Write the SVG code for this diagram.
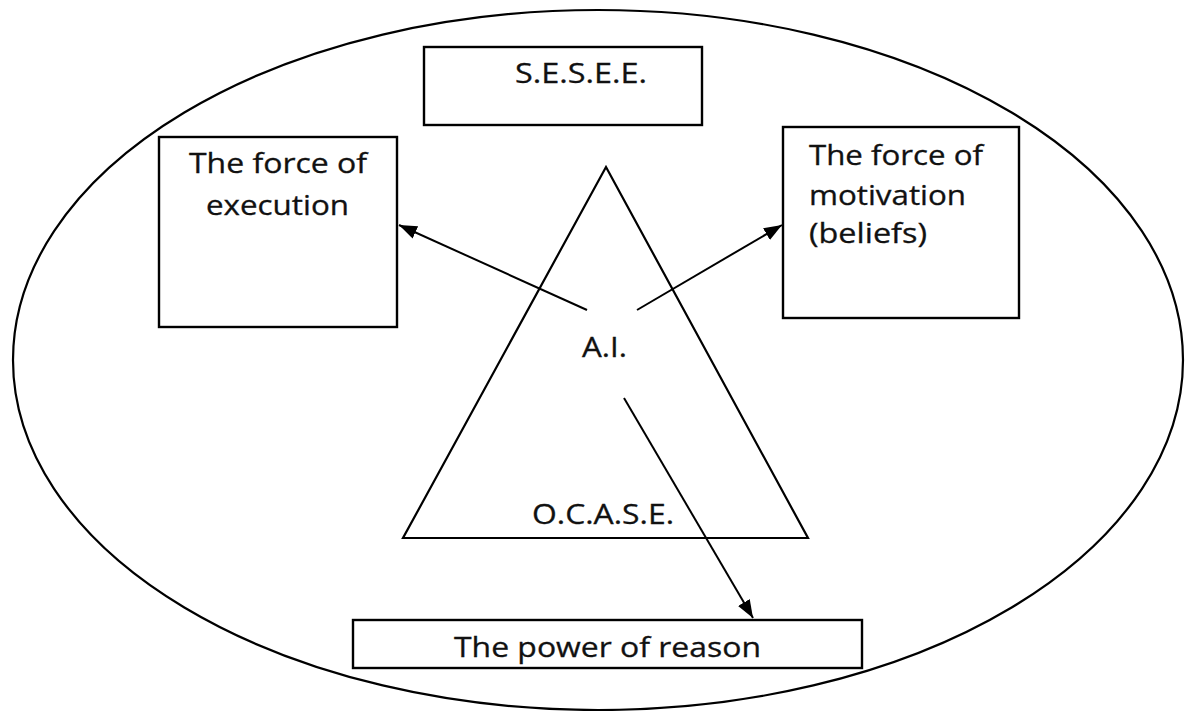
<svg xmlns="http://www.w3.org/2000/svg" width="1186" height="711" viewBox="0 0 1186 711">
  <style>
    .shape { fill: none; stroke: #000; stroke-width: 2.2; }
    .box { fill: #fff; stroke: #000; stroke-width: 2.4; }
    .label { font-family: "Open Sans", "Liberation Sans", sans-serif; font-size: 26.5px; fill: #111; stroke: #111; stroke-width: 0.3; }
    .link { fill: none; stroke: #000; stroke-width: 2; marker-end: url(#arrow); }
  </style>
  <defs>
    <marker id="arrow" viewBox="0 0 12 9" refX="12" refY="4.5" markerWidth="9" markerHeight="9" markerUnits="strokeWidth" orient="auto">
      <path d="M0,0 L12,4.5 L0,9 z" fill="#000"/>
    </marker>
  </defs>
  <rect width="1186" height="711" fill="#fff"/>

  <!-- outer boundary -->
  <g id="boundary">
    <ellipse class="shape" cx="598" cy="360" rx="585" ry="350"/>
  </g>

  <g id="sesee">
    <rect class="box" x="424" y="47" width="278" height="78"/>
    <text class="label" x="515" y="83" textLength="132" lengthAdjust="spacingAndGlyphs">S.E.S.E.E.</text>
  </g>

  <g id="execution">
    <rect class="box" x="159" y="137" width="238" height="190"/>
    <text class="label" x="189" y="173" textLength="178" lengthAdjust="spacingAndGlyphs">The force of</text>
    <text class="label" x="206" y="215" textLength="143" lengthAdjust="spacingAndGlyphs">execution</text>
  </g>

  <g id="motivation">
    <rect class="box" x="783" y="127" width="236" height="191"/>
    <text class="label" x="809" y="165" textLength="174" lengthAdjust="spacingAndGlyphs">The force of</text>
    <text class="label" x="809" y="205" textLength="157" lengthAdjust="spacingAndGlyphs">motivation</text>
    <text class="label" x="809" y="243" textLength="118" lengthAdjust="spacingAndGlyphs">(beliefs)</text>
  </g>

  <g id="pyramid">
    <polygon class="shape" points="606,167 808,538 403,538"/>
    <text class="label" x="582" y="357" textLength="45" lengthAdjust="spacingAndGlyphs">A.I.</text>
    <text class="label" x="532" y="524" textLength="142" lengthAdjust="spacingAndGlyphs">O.C.A.S.E.</text>
  </g>

  <g id="reason">
    <rect class="box" x="353" y="620" width="509" height="48"/>
    <text class="label" x="454" y="657" textLength="307" lengthAdjust="spacingAndGlyphs">The power of reason</text>
  </g>

  <!-- arrows out of A.I. -->
  <g id="connectors">
    <line class="link" x1="587" y1="310" x2="399" y2="225"/>
    <line class="link" x1="637" y1="310" x2="782" y2="225"/>
    <line class="link" x1="624" y1="398" x2="753" y2="618"/>
  </g>
</svg>
